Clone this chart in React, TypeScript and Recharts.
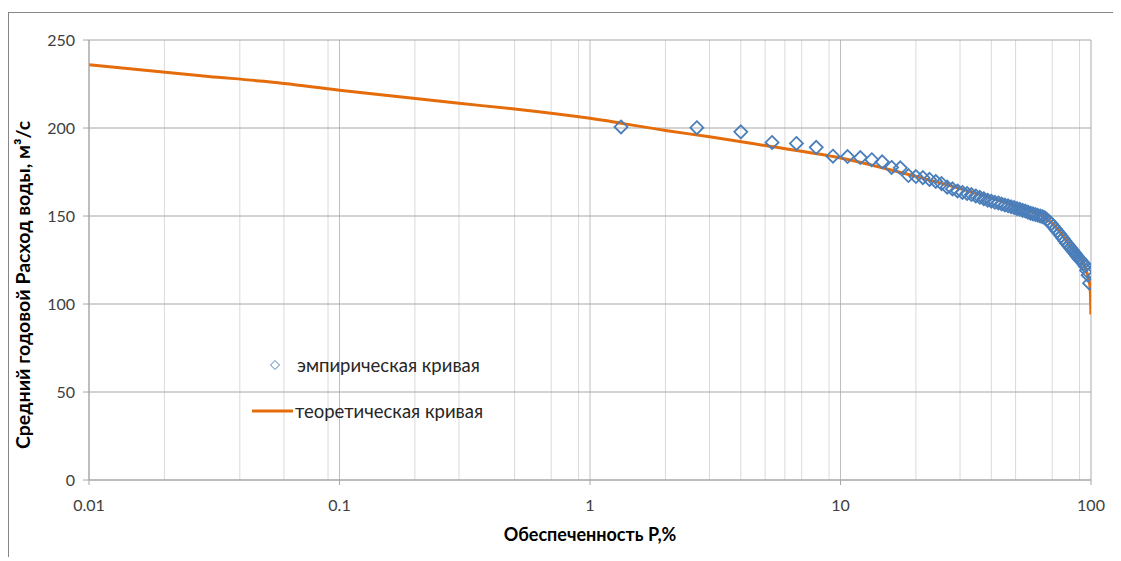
import { ComposedChart, Line, Scatter, XAxis, YAxis, CartesianGrid, Legend } from "recharts";

const FONT = "Lato, 'Open Sans', 'Liberation Sans', sans-serif";

// ось X (логарифмическая), деления
const decadeTicks = [0.01, 0.1, 1, 10, 100];
const minorTicks = [
  0.02, 0.03, 0.04, 0.05, 0.06, 0.07, 0.08, 0.09,
  0.2, 0.3, 0.4, 0.5, 0.6, 0.7, 0.8, 0.9,
  2, 3, 4, 5, 6, 7, 8, 9,
  20, 30, 40, 50, 60, 70, 80, 90,
];
const yTicks = [0, 50, 100, 150, 200, 250];

// теоретическая кривая
const theoryP = [0.01, 0.03, 0.05, 0.1, 0.3, 0.5, 1, 2, 3, 5, 10, 20, 25, 30, 40, 50, 60, 65, 70, 75, 80, 90, 95, 97, 99, 99.5, 99.9];
const theoryQ = [236, 229.3, 226.5, 221.5, 214, 210.8, 205.5, 198.6, 195, 190, 183, 172.5, 168.8, 165.6, 160.2, 155.6, 151.6, 149.2, 145.8, 141.2, 135.6, 127, 120.2, 116.4, 110.4, 105, 94];

// эмпирическая кривая
const empP = [
  1.33, 2.67, 4.0, 5.33, 6.67, 8.0, 9.33, 10.67, 12.0, 13.33,
  14.67, 16.0, 17.33, 18.67, 20.0, 21.33, 22.67, 24.0, 25.33, 26.67,
  28.0, 29.33, 30.67, 32.0, 33.33, 34.67, 36.0, 37.33, 38.67, 40.0,
  41.33, 42.67, 44.0, 45.33, 46.67, 48.0, 49.33, 50.67, 52.0, 53.33,
  54.67, 56.0, 57.33, 58.67, 60.0, 61.33, 62.67, 64.0, 65.33, 66.67,
  68.0, 69.33, 70.67, 72.0, 73.33, 74.67, 76.0, 77.33, 78.67, 80.0,
  81.33, 82.67, 84.0, 85.33, 86.67, 88.0, 89.33, 90.67, 92.0, 93.33,
  94.67, 96.0, 97.33, 98.67,
];
const empQ = [
  200.6, 200.2, 197.8, 191.8, 191.2, 189.0, 184.0, 183.8, 183.2, 182.0,
  180.8, 177.6, 177.4, 173.0, 172.4, 171.8, 170.8, 169.6, 168.4, 166.4,
  165.4, 164.2, 163.4, 162.8, 162.2, 161.4, 160.6, 159.8, 159.0, 158.4,
  157.8, 157.4, 156.8, 156.2, 155.8, 155.2, 154.8, 154.2, 153.8, 153.2,
  152.8, 152.2, 151.6, 151.2, 150.8, 150.4, 150.0, 149.6, 149.0, 148.0,
  146.8, 145.6, 144.2, 142.8, 141.4, 140.0, 138.6, 137.2, 135.8, 134.4,
  133.2, 132.0, 130.8, 129.6, 128.4, 127.2, 126.0, 125.0, 124.0, 123.0,
  121.6, 119.0, 116.4, 111.8,
];

const theoryData = theoryP.map((p, i) => ({ p, q: theoryQ[i] }));
const empData = empP.map((p, i) => ({ p, q: empQ[i] }));

const BLUE = "#4a7ebb";
const ORANGE = "#e46c0a";
const TITLE_STYLE = { fontWeight: "bold", fill: "#000", fontFamily: FONT };

const Diamond = (props: any) => {
  const { cx, cy } = props;
  const r = 6.5;
  return (
    <path
      d={`M${cx},${cy - r}L${cx + r},${cy}L${cx},${cy + r}L${cx - r},${cy}Z`}
      fill="none"
      stroke={BLUE}
      strokeWidth={1.8}
    />
  );
};

const YTitle = (props: any) => {
  const { x, y, height } = props.viewBox;
  const tx = x + 13;
  const ty = y + height / 2 + 25;
  return (
    <text
      x={tx}
      y={ty}
      transform={`rotate(-90, ${tx}, ${ty})`}
      textAnchor="middle"
      dominantBaseline="central"
      style={{ ...TITLE_STYLE, fontSize: 19.5 }}
    >
      Средний годовой Расход воды, м³/с
    </text>
  );
};

const LegendBox = () => (
  <div style={{ fontFamily: FONT, fontSize: 18.5, color: "#262626", lineHeight: "24px" }}>
    <div style={{ display: "flex", alignItems: "center", height: 24 }}>
      <svg width={45} height={24}>
        <path d="M23,7.5L27.5,12L23,16.5L18.5,12Z" fill="none" stroke={BLUE} strokeWidth={1} />
      </svg>
      <span>эмпирическая кривая</span>
    </div>
    <div style={{ display: "flex", alignItems: "center", height: 24, marginTop: 22 }}>
      <svg width={43} height={24}>
        <line x1={0} y1={12} x2={41} y2={12} stroke={ORANGE} strokeWidth={3} />
      </svg>
      <span>теоретическая кривая</span>
    </div>
  </div>
);

export default function App() {
  return (
    <>
      <style>{"body{overflow:hidden}"}</style>
      <div
        style={{
          position: "relative",
          top: 4,
          width: 1112,
          height: 548,
          borderTop: "1px solid #868686",
          borderLeft: "1px solid #868686",
          background: "#fff",
        }}
      >
        <ComposedChart width={1112} height={548} margin={{ top: 27, right: 30, bottom: 0, left: 0 }}>
          <XAxis
            xAxisId="minor"
            type="number"
            dataKey="p"
            scale="log"
            domain={[0.01, 100]}
            ticks={minorTicks}
            allowDataOverflow
            hide
          />
          <CartesianGrid xAxisId="minor" horizontal={false} stroke="#d9d9d9" />
          <CartesianGrid horizontal={false} stroke="#bfbfbf" />
          <CartesianGrid vertical={false} stroke="#a6a6a6" />
          <XAxis
            type="number"
            dataKey="p"
            scale="log"
            domain={[0.01, 100]}
            ticks={decadeTicks}
            allowDataOverflow
            height={81}
            tickFormatter={(v: number) => String(v)}
            stroke="#a6a6a6"
            tickSize={5}
            tickMargin={15}
            tick={{ fill: "#404040", fontSize: 16, fontFamily: FONT }}
            label={{
              value: "Обеспеченность Р,%",
              position: "insideBottom",
              offset: 20,
              style: { ...TITLE_STYLE, fontSize: 18 },
            }}
          />
          <YAxis
            type="number"
            dataKey="q"
            domain={[0, 250]}
            ticks={yTicks}
            width={80}
            stroke="#a6a6a6"
            tickSize={6}
            tickMargin={8}
            tick={{ fill: "#404040", fontSize: 16, fontFamily: FONT }}
            label={{ content: YTitle }}
          />
          <Line
            data={theoryData}
            dataKey="q"
            type="monotone"
            stroke={ORANGE}
            strokeWidth={3}
            dot={false}
            activeDot={false}
            isAnimationActive={false}
            name="теоретическая кривая"
          />
          <Scatter
            data={empData}
            dataKey="q"
            shape={Diamond}
            isAnimationActive={false}
            name="эмпирическая кривая"
          />
          <Legend
            layout="vertical"
            align="center"
            verticalAlign="middle"
            content={LegendBox}
            wrapperStyle={{ left: 243, top: 340, width: "auto", height: "auto" }}
          />
        </ComposedChart>
      </div>
    </>
  );
}
